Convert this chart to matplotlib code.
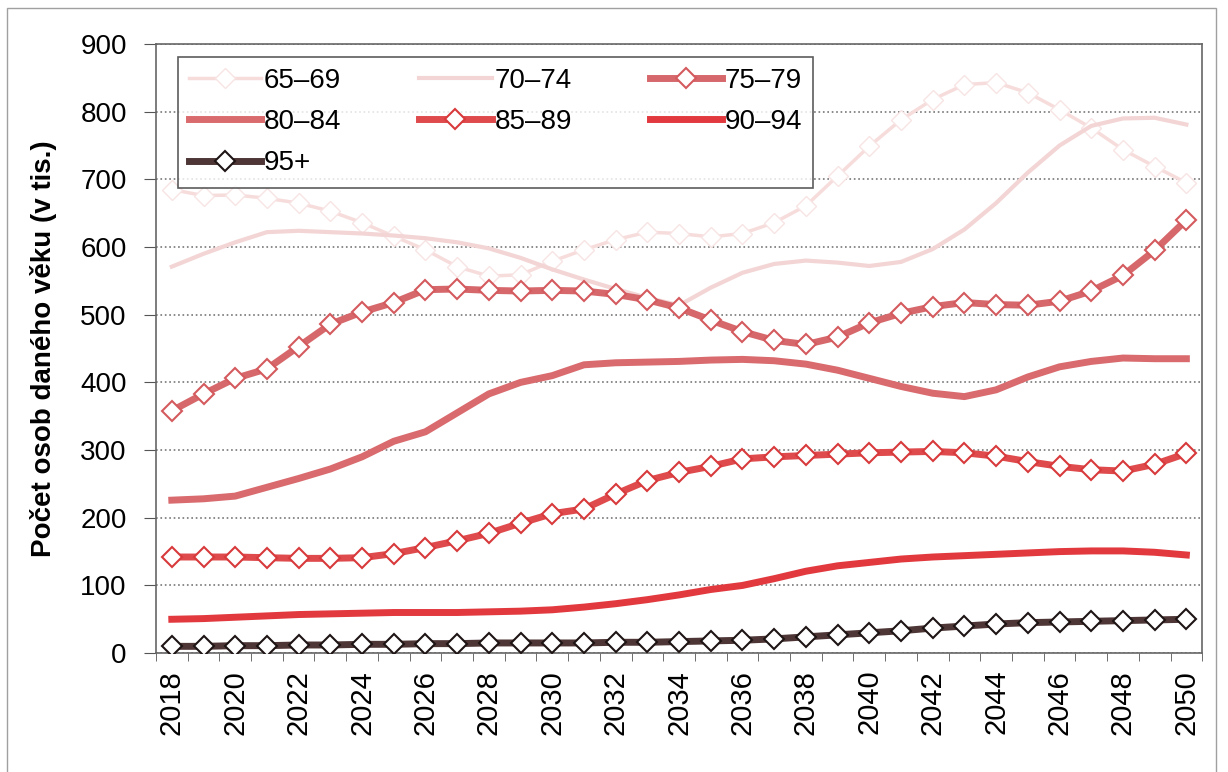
import numpy as np
import matplotlib.pyplot as plt
from matplotlib.patches import Rectangle

years = list(range(2018, 2051))

# values in thousands
v65_69 = [685, 676, 677, 672, 665, 653, 636, 616, 596, 571, 557, 559, 579, 596, 611, 622,
          620, 615, 620, 636, 661, 705, 749, 788, 818, 840, 843, 828, 803, 776, 744, 719, 695]
v70_74 = [571, 590, 607, 622, 624, 622, 620, 617, 613, 607, 598, 584, 567, 552, 538, 525,
          514, 540, 562, 575, 580, 577, 572, 578, 597, 626, 665, 710, 750, 779, 790, 791, 781]
v75_79 = [358, 383, 406, 420, 453, 486, 504, 518, 537, 538, 536, 535, 536, 535, 530, 522,
          510, 492, 475, 462, 456, 467, 488, 502, 512, 518, 515, 514, 520, 535, 558, 595, 640]
v80_84 = [226, 228, 232, 245, 258, 272, 290, 313, 327, 355, 383, 400, 410, 426, 429, 430,
          431, 433, 434, 432, 427, 418, 406, 394, 384, 379, 389, 408, 423, 431, 436, 435, 435]
v85_89 = [142, 142, 142, 141, 140, 140, 141, 147, 156, 166, 177, 192, 206, 213, 235, 255,
          267, 276, 287, 290, 292, 294, 296, 297, 298, 296, 291, 283, 276, 271, 269, 279, 295]
v90_94 = [50, 51, 53, 55, 57, 58, 59, 60, 60, 60, 61, 62, 64, 68, 73, 79,
          86, 94, 100, 110, 121, 129, 134, 139, 142, 144, 146, 148, 150, 151, 151, 149, 145]
v95 = [10, 10, 11, 11, 12, 12, 13, 13, 14, 14, 15, 15, 15, 15, 16, 16,
       17, 18, 19, 21, 24, 27, 30, 33, 37, 40, 43, 45, 46, 47, 48, 49, 50]

labels = ["65\u201369", "70\u201374", "75\u201379", "80\u201384", "85\u201389", "90\u201394", "95+"]

plt.rcParams['font.family'] = ['Liberation Sans', 'DejaVu Sans']

fig = plt.figure(figsize=(12.28, 7.72), dpi=100)
ax = fig.add_axes([0.127, 0.154, 0.852, 0.789])

# frame round the whole chart
fig.patches.append(Rectangle((0.006, -0.01), 0.984, 1.0, transform=fig.transFigure,
                             fill=False, edgecolor='#a0a0a0', linewidth=1.0))

lw = 5
ms = 10.5
h = {}
h["65"], = ax.plot(years, v65_69, color='#f7dcdc', lw=2.5, marker='D', ms=ms,
                   mfc='white', mec='#f7e4e4', mew=1.0, zorder=2)
h["70"], = ax.plot(years, v70_74, color='#f3d5d5', lw=3, zorder=2)
h["75"], = ax.plot(years, v75_79, color='#d6686c', lw=lw, marker='D', ms=ms,
                   mfc='white', mec='#d45a5e', mew=1.5, zorder=3)
h["80"], = ax.plot(years, v80_84, color='#d96a6e', lw=lw, zorder=3)
h["85"], = ax.plot(years, v85_89, color='#df4a4c', lw=lw, marker='D', ms=ms,
                   mfc='white', mec='#d83a3c', mew=1.5, zorder=3)
h["90"], = ax.plot(years, v90_94, color='#e2393f', lw=lw, zorder=3)
h["95"], = ax.plot(years, v95, color='#4e3636', lw=lw, marker='D', ms=ms,
                   mfc='white', mec='#1e1414', mew=1.5, zorder=4)

ax.set_xlim(2017.5, 2050.5)
ax.set_ylim(0, 900)
ax.set_yticks(range(0, 901, 100))
ax.set_xticks(years[::2])
ax.set_xticklabels([str(y) for y in years[::2]], rotation=90, fontsize=21)
ax.set_xticks(np.arange(2017.5, 2051, 1), minor=True)
ax.tick_params(axis='x', which='major', length=0, pad=12)
ax.tick_params(axis='x', which='minor', length=6, direction='out', color='#555')
ax.tick_params(axis='y', labelsize=20, length=9, color='#555', pad=12)

ax.grid(axis='y', linestyle=':', color='#777', linewidth=1.2)
ax.set_axisbelow(True)
for s in ax.spines.values():
    s.set_color('#666')
    s.set_linewidth(1.2)

ax.set_ylabel("Počet osob daného věku (v tis.)", fontsize=20, fontweight='bold')
ax.yaxis.set_label_coords(-0.095, 0.5)

order = ["65", "80", "95", "70", "85", "75", "90"]
name = dict(zip(["65", "70", "75", "80", "85", "90", "95"], labels))
leg = ax.legend([h[k] for k in order], [name[k] for k in order], ncol=3,
                loc='upper left', bbox_to_anchor=(0.021, 0.979), borderaxespad=0,
                fontsize=20, frameon=True, fancybox=False, edgecolor='#333',
                handlelength=2.6, handletextpad=0.1, columnspacing=2.8,
                labelspacing=0.55, borderpad=0.4)
leg.get_frame().set_linewidth(1.2)

fig.savefig("out.png", dpi=100)
